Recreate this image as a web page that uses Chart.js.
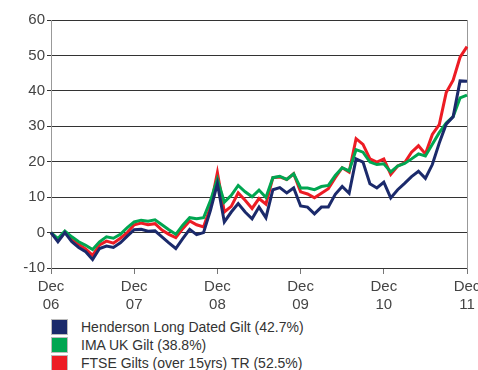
<!DOCTYPE html>
<html>
<head>
<meta charset="utf-8">
<script src="https://cdn.jsdelivr.net/npm/chart.js@4"></script>
<style>
  body { margin: 0; background: #fff; }
  #wrap { position: relative; width: 478px; height: 370px; overflow: hidden; font-family: "Liberation Sans", Arial, sans-serif; }
  #c { position: absolute; left: 0; top: 0; }
  #legend { position: absolute; left: 51px; top: 318px; }
  .row { height: 18px; display: flex; align-items: center; font-size: 14px; color: #333; white-space: nowrap; }
  .sw { width: 17px; height: 16px; margin-right: 13px; box-sizing: border-box; border: 1px solid #bbb; }
</style>
</head>
<body>
<div id="wrap">
  <canvas id="c" width="478" height="318"></canvas>
  <div id="legend"></div>
</div>
<script>
// monthly, Dec 06 .. Dec 11 (cumulative % growth)
var years = ['06', '07', '08', '09', '10', '11'];
var months = ['Jan', 'Feb', 'Mar', 'Apr', 'May', 'Jun', 'Jul', 'Aug', 'Sep', 'Oct', 'Nov', 'Dec'];

var henderson = [
  0, -2.6, 0, -2.6, -4.2, -5.4, -7.6, -4.5, -3.8, -4.2, -2.9, -1, 0.8,
  0.9, 0.4, 0.5, -1.2, -2.9, -4.5, -1.7, 0.9, -0.6, 0, 6.3, 13.8,
  3.0, 5.8, 8.2, 5.8, 3.9, 7.2, 4.2, 12.1, 12.7, 11.2, 12.6, 7.5,
  7.2, 5.3, 7.2, 7.2, 10.8, 13, 11.1, 20.8, 19.9, 13.8, 12.6, 14.2,
  9.8, 12.1, 13.9, 15.8, 17.3, 15.3, 19.2, 25.3, 30.6, 32.7, 42.8, 42.7
];
var imaGilt = [
  0, -1.7, 0.4, -1.2, -2.6, -3.6, -4.8, -2.6, -1.2, -1.6, -0.5, 1.4, 3.0,
  3.5, 3.2, 3.6, 2.2, 0.8, -0.5, 2.1, 4.2, 3.9, 4.2, 9, 15.1,
  8.6, 10.5, 13.3, 11.5, 10.1, 12, 9.9, 15.5, 15.9, 15, 16.6, 12.6,
  12.6, 12.1, 13, 13.3, 16.1, 18.3, 17.4, 23.4, 22.7, 19.9, 19.2, 19.4,
  17.1, 18.8, 19.5, 20.8, 22.2, 21.6, 24.9, 28.2, 30.9, 32.7, 38, 38.8
];
var ftseGilts = [
  0, -2.2, 0.2, -2, -3.4, -4.6, -6.4, -3.5, -2.4, -3, -1.6, 0, 2.2,
  2.7, 2.2, 2.5, 0.7, -0.5, -1.4, 1.1, 3.3, 2.2, 1.6, 7.2, 16.9,
  5.8, 7.4, 11.2, 9.1, 6.8, 9.6, 8, 15.5, 15.7, 15, 16.6, 11.5,
  10.9, 9.8, 11.1, 12.4, 15.5, 18.3, 17.1, 26.5, 24.9, 20.8, 19.9, 20.8,
  16.4, 18.8, 19.7, 22.7, 24.5, 22.2, 27.7, 30.5, 39.5, 43, 49.5, 52.5
];

var seriesNames = ['Henderson Long Dated Gilt (42.7%)', 'IMA UK Gilt (38.8%)', 'FTSE Gilts (over 15yrs) TR (52.5%)'];
var seriesColours = ['#1b2a6b', '#00a651', '#ed1c24'];

var labels = ['Dec ' + years[0]];
for (var y = 1; y < years.length; y++) {
  for (var m = 0; m < 12; m++) labels.push(months[m] + ' ' + years[y]);
}

var allData = [henderson, imaGilt, ftseGilts];
var datasets = allData.map(function (d, i) {
  return {
    label: seriesNames[i],
    data: d,
    borderColor: seriesColours[i],
    backgroundColor: seriesColours[i],
    borderWidth: 3,
    pointRadius: 0,
    tension: 0,
    borderJoinStyle: 'miter'
  };
});

new Chart(document.getElementById('c').getContext('2d'), {
  type: 'line',
  data: { labels: labels, datasets: datasets },
  options: {
    responsive: false,
    animation: false,
    layout: { padding: { top: 20, right: 0, left: 0, bottom: 0 } },
    plugins: { legend: { display: false }, tooltip: { enabled: false } },
    scales: {
      x: {
        offset: false,
        grid: { drawOnChartArea: false, drawTicks: true, tickLength: 6, tickColor: '#777' },
        border: { display: false },
        ticks: {
          autoSkip: false, maxRotation: 0, padding: 4, color: '#444',
          font: { family: 'Liberation Sans', size: 15 },
          callback: function (v, i) { return i % 12 === 0 ? ['Dec', years[i / 12]] : null; }
        },
        afterFit: function (s) { s.height = 50; s.paddingLeft = 0; s.paddingRight = 0; }
      },
      y: {
        min: -10, max: 60,
        ticks: { stepSize: 10, color: '#444', padding: 2, font: { family: 'Liberation Sans', size: 15 } },
        grid: { color: '#333', lineWidth: 1, tickLength: 4, tickColor: '#333' },
        border: { color: '#999' },
        afterFit: function (s) { s.width = 51; }
      },
      y2: {
        position: 'right', min: -10, max: 60,
        ticks: { display: false },
        grid: { drawOnChartArea: false, drawTicks: false },
        border: { color: '#999' },
        afterFit: function (s) { s.width = 11; }
      }
    }
  }
});

var legend = document.getElementById('legend');
seriesNames.forEach(function (name, i) {
  var row = document.createElement('div');
  row.className = 'row';
  var sw = document.createElement('span');
  sw.className = 'sw';
  sw.style.background = seriesColours[i];
  var t = document.createElement('span');
  t.textContent = name;
  row.appendChild(sw);
  row.appendChild(t);
  legend.appendChild(row);
});
</script>
</body>
</html>
